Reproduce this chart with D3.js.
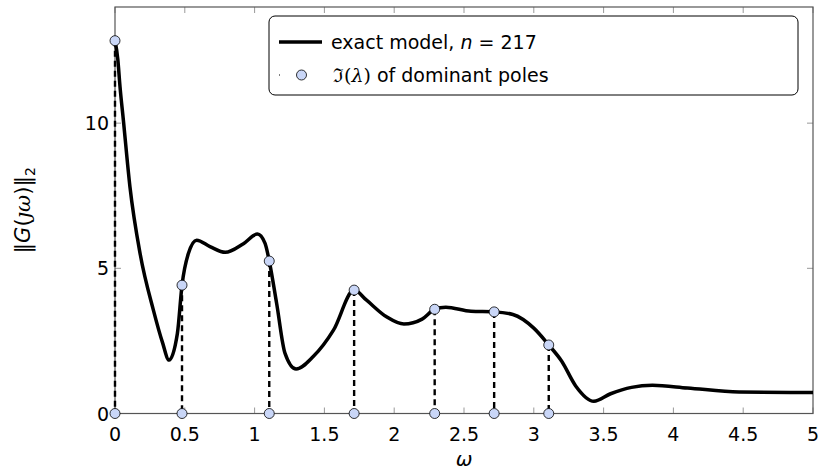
<!DOCTYPE html>
<html lang="en">
<head>
  <meta charset="UTF-8">
  <title>Frequency response and dominant poles</title>
  <script src="https://d3js.org/d3.v7.min.js"></script>
  <style>
    body { margin: 0; background: #fff; font-family: "DejaVu Sans", sans-serif; }
    svg text { font-family: "DejaVu Sans", sans-serif; }
  </style>
</head>
<body>
<svg id="chart" width="820" height="476"></svg>
<script>
// frequency response of the exact model
const omega = [0, 0.02, 0.036, 0.06, 0.107, 0.18, 0.275, 0.34, 0.387, 0.447, 0.48, 0.525, 0.585,
  0.68, 0.79, 0.92, 1.02, 1.075, 1.105, 1.158, 1.218, 1.297, 1.42, 1.565, 1.713, 1.8, 1.945,
  2.07, 2.2, 2.29, 2.37, 2.55, 2.716, 2.85, 3.0, 3.107, 3.2, 3.3, 3.43, 3.55, 3.7, 3.85, 4.1,
  4.47, 5.0];
const gain = [12.84, 12.2, 11.25, 10.1, 7.81, 5.5, 3.56, 2.45, 1.84, 2.76, 4.42, 5.5, 5.97,
  5.75, 5.55, 5.85, 6.18, 5.86, 5.25, 3.79, 2.07, 1.53, 1.96, 2.87, 4.25, 3.91, 3.33,
  3.08, 3.25, 3.59, 3.66, 3.52, 3.5, 3.41, 2.94, 2.36, 1.8, 0.95, 0.42, 0.68, 0.9, 0.97, 0.88,
  0.74, 0.72];

// imaginary parts of the dominant poles and the response there
const poleOmega = [0, 0.48, 1.105, 1.713, 2.29, 2.716, 3.107];
const poleGain = [12.84, 4.42, 5.25, 4.25, 3.59, 3.5, 2.36];

const xTicks = [0, 0.5, 1, 1.5, 2, 2.5, 3, 3.5, 4, 4.5, 5];
const yTicks = [0, 5, 10];

const svg = d3.select("#chart");
const margin = { top: 7, right: 7, bottom: 62.5, left: 115 };
const W = 820, H = 476;

const x = d3.scaleLinear().domain([0, 5]).range([margin.left, W - margin.right]);
const y = d3.scaleLinear().domain([0, 14]).range([H - margin.bottom, margin.top]);

const x0 = x.range()[0], x1 = x.range()[1];
const y0 = y.range()[0], y1 = y.range()[1];

// ticks (inside, on all four sides)
const tickLen = 6;
const ticks = svg.append("g").attr("stroke", "#999").attr("stroke-width", 1);
xTicks.forEach(t => {
  ticks.append("line").attr("x1", x(t)).attr("x2", x(t)).attr("y1", y0).attr("y2", y0 - tickLen);
  ticks.append("line").attr("x1", x(t)).attr("x2", x(t)).attr("y1", y1).attr("y2", y1 + tickLen);
});
yTicks.forEach(t => {
  ticks.append("line").attr("x1", x0).attr("x2", x0 + tickLen).attr("y1", y(t)).attr("y2", y(t));
  ticks.append("line").attr("x1", x1).attr("x2", x1 - tickLen).attr("y1", y(t)).attr("y2", y(t));
});

// axis frame
svg.append("rect")
  .attr("x", x0).attr("y", y1).attr("width", x1 - x0).attr("height", y0 - y1)
  .attr("fill", "none").attr("stroke", "#555").attr("stroke-width", 1.2);

// tick labels
svg.append("g").selectAll("text").data(xTicks).enter().append("text")
  .attr("x", d => x(d)).attr("y", y0 + 27)
  .attr("text-anchor", "middle").attr("font-size", 19).attr("fill", "#000")
  .text(d => d);
svg.append("g").selectAll("text").data(yTicks).enter().append("text")
  .attr("x", x0 - 6).attr("y", d => y(d) + 7)
  .attr("text-anchor", "end").attr("font-size", 19).attr("fill", "#000")
  .text(d => d);

// axis labels
svg.append("text")
  .attr("x", (x0 + x1) / 2).attr("y", 466)
  .attr("text-anchor", "middle").attr("font-size", 20)
  .attr("font-style", "italic").attr("font-family", "DejaVu Serif, serif")
  .text("ω");

const yl = svg.append("text")
  .attr("transform", `translate(30,${(y0 + y1) / 2}) rotate(-90)`)
  .attr("text-anchor", "middle").attr("font-size", 21);
yl.append("tspan").text("‖");
yl.append("tspan").attr("font-style", "italic").text("G");
yl.append("tspan").text("(");
yl.append("tspan").attr("font-style", "italic").attr("font-family", "DejaVu Serif, serif").text("ȷω");
yl.append("tspan").text(")‖");
yl.append("tspan").attr("font-size", 14).attr("dy", 5).text("2");

// dashed drop lines from each pole to the axis
svg.append("g").selectAll("line").data(poleOmega).enter().append("line")
  .attr("x1", d => x(d)).attr("x2", d => x(d))
  .attr("y1", (d, i) => y(poleGain[i])).attr("y2", y(0))
  .attr("stroke", "#000").attr("stroke-width", 2.4)
  .attr("stroke-dasharray", "6,4");

// response curve
const line = d3.line()
  .x(d => x(d[0])).y(d => y(d[1]))
  .curve(d3.curveMonotoneX);
svg.append("path")
  .datum(omega.map((w, i) => [w, gain[i]]))
  .attr("d", line)
  .attr("fill", "none").attr("stroke", "#000").attr("stroke-width", 3.5)
  .attr("stroke-linejoin", "round");

// pole markers (on the curve and on the axis)
const markerFill = "#c9d6f7";
const markers = svg.append("g");
markers.selectAll("circle.top").data(poleOmega).enter().append("circle")
  .attr("class", "top")
  .attr("cx", d => x(d)).attr("cy", (d, i) => y(poleGain[i])).attr("r", 5)
  .attr("fill", markerFill).attr("stroke", "#000").attr("stroke-width", 0.8);
markers.selectAll("circle.bot").data(poleOmega).enter().append("circle")
  .attr("class", "bot")
  .attr("cx", d => x(d)).attr("cy", y(0)).attr("r", 5)
  .attr("fill", markerFill).attr("stroke", "#000").attr("stroke-width", 0.8);

// legend
const lg = svg.append("g");
lg.append("rect")
  .attr("x", 269).attr("y", 16).attr("width", 529).attr("height", 79).attr("rx", 6)
  .attr("fill", "#fff").attr("stroke", "#000").attr("stroke-width", 1);
lg.append("line")
  .attr("x1", 279).attr("x2", 322).attr("y1", 42).attr("y2", 42)
  .attr("stroke", "#000").attr("stroke-width", 3.5);
const t1 = lg.append("text").attr("x", 331).attr("y", 49).attr("font-size", 19);
t1.append("tspan").text("exact model, ");
t1.append("tspan").attr("font-style", "italic").text("n");
t1.append("tspan").text(" = 217");
lg.append("line")
  .attr("x1", 279).attr("x2", 324).attr("y1", 75).attr("y2", 75)
  .attr("stroke", "#000").attr("stroke-width", 1)
  .attr("stroke-dasharray", "1,21.5");
lg.append("circle")
  .attr("cx", 301.5).attr("cy", 75).attr("r", 5)
  .attr("fill", markerFill).attr("stroke", "#000").attr("stroke-width", 0.8);
const t2 = lg.append("text").attr("x", 333).attr("y", 82).attr("font-size", 19);
t2.append("tspan").attr("font-family", "DejaVu Serif, serif").text("ℑ(");
t2.append("tspan").attr("font-family", "DejaVu Serif, serif").attr("font-style", "italic").text("λ");
t2.append("tspan").attr("font-family", "DejaVu Serif, serif").text(")");
t2.append("tspan").text(" of dominant poles");
</script>
</body>
</html>
